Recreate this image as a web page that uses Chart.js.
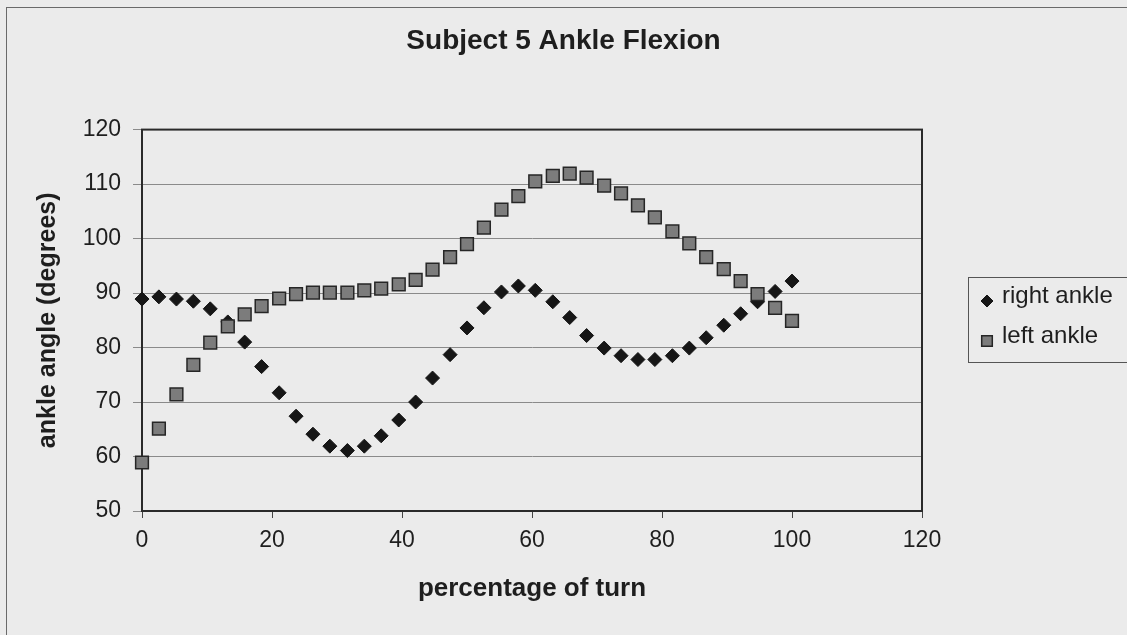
<!DOCTYPE html>
<html>
<head>
<meta charset="utf-8">
<script src="https://cdn.jsdelivr.net/npm/chart.js@4.4.0/dist/chart.umd.min.js"></script>
<style>
  html, body { margin: 0; padding: 0; background: #ebebeb; }
  canvas { display: block; }
</style>
</head>
<body>
<canvas id="myChart" width="1127" height="635"></canvas>
<script>
// percentage of turn (x) for each sample
const turn = [0, 2.6, 5.3, 7.9, 10.5, 13.2, 15.8, 18.4, 21.1, 23.7, 26.3, 28.9, 31.6, 34.2, 36.8, 39.5, 42.1, 44.7, 47.4, 50,
  52.6, 55.3, 57.9, 60.5, 63.2, 65.8, 68.4, 71.1, 73.7, 76.3, 78.9, 81.6, 84.2, 86.8, 89.5, 92.1, 94.7, 97.4, 100]

const rightAnkle = [88.9, 89.3, 88.9, 88.5, 87.1, 84.7, 81.0, 76.5, 71.7, 67.4, 64.1, 61.9, 61.1, 61.9, 63.8, 66.7, 70.0, 74.4, 78.7, 83.6,
  87.3, 90.2, 91.3, 90.5, 88.4, 85.5, 82.2, 79.9, 78.5, 77.8, 77.8, 78.5, 79.9, 81.8, 84.1, 86.2, 88.4, 90.3, 92.2]

const leftAnkle = [58.9, 65.1, 71.4, 76.8, 80.9, 83.9, 86.1, 87.6, 89.0, 89.8, 90.1, 90.1, 90.1, 90.5, 90.8, 91.6, 92.4, 94.3, 96.6, 99.0,
  102.0, 105.3, 107.8, 110.5, 111.5, 111.9, 111.2, 109.7, 108.3, 106.1, 103.9, 101.3, 99.1, 96.6, 94.4, 92.2, 89.8, 87.3, 84.9]

const xTicks = [0, 20, 40, 60, 80, 100, 120]
const yTicks = [50, 60, 70, 80, 90, 100, 110, 120]

const font = "'Liberation Sans', Arial, sans-serif"
const ink = '#1e1e1e'

function toPoints(xs, ys) {
  return xs.map((x, i) => ({ x: x, y: ys[i] }))
}

// background, frame, plot border and the legend box
const decor = {
  id: 'decor',
  beforeDraw(chart) {
    const ctx = chart.ctx
    ctx.save()
    ctx.fillStyle = '#ebebeb'
    ctx.fillRect(0, 0, chart.width, chart.height)
    ctx.strokeStyle = '#6a6a6a'
    ctx.lineWidth = 1
    ctx.strokeRect(6.5, 7.5, chart.width + 20, chart.height + 20)
    ctx.restore()
  },
  beforeDatasetsDraw(chart) {
    const ctx = chart.ctx
    const a = chart.chartArea
    ctx.save()
    ctx.strokeStyle = '#2a2a2a'
    ctx.lineWidth = 2
    ctx.strokeRect(a.left, a.top, a.right - a.left, a.bottom - a.top)
    ctx.restore()
  },
  afterDraw(chart) {
    const ctx = chart.ctx
    ctx.save()
    ctx.strokeStyle = '#555'
    ctx.lineWidth = 1
    ctx.strokeRect(968.5, 277.5, 200, 85)
    const rows = [296, 336]
    chart.data.datasets.forEach((ds, i) => {
      ctx.fillStyle = ds.backgroundColor
      ctx.strokeStyle = ds.borderColor
      ctx.lineWidth = ds.borderWidth
      Chart.helpers.drawPoint(ctx, {
        pointStyle: ds.pointStyle,
        radius: ds.pointStyle === 'rect' ? 7.5 : 6,
        rotation: 0,
        borderWidth: ds.borderWidth
      }, 987, rows[i] + 5)
      ctx.fillStyle = ink
      ctx.font = '24px ' + font
      ctx.textBaseline = 'middle'
      ctx.textAlign = 'left'
      ctx.fillText(ds.label, 1002, rows[i])
    })
    ctx.restore()
  }
}

const chart = new Chart(document.getElementById('myChart'), {
  type: 'scatter',
  data: {
    datasets: [{
      label: 'right ankle',
      data: toPoints(turn, rightAnkle),
      pointStyle: 'rectRot',
      pointRadius: 7,
      pointHoverRadius: 7,
      backgroundColor: '#161616',
      borderColor: '#161616',
      borderWidth: 1,
      clip: false,
      order: 1
    }, {
      label: 'left ankle',
      data: toPoints(turn, leftAnkle),
      pointStyle: 'rect',
      pointRadius: 9,
      pointHoverRadius: 9,
      backgroundColor: '#7c7c7c',
      borderColor: '#262626',
      borderWidth: 1.5,
      clip: false,
      order: 0
    }]
  },
  options: {
    responsive: false,
    animation: false,
    devicePixelRatio: 1,
    layout: { padding: 0 },
    plugins: {
      legend: { display: false },
      tooltip: { enabled: false },
      title: {
        display: true,
        text: 'Subject 5 Ankle Flexion',
        color: ink,
        font: { family: font, size: 28, weight: 'bold' },
        padding: { top: 24, bottom: 72 }
      }
    },
    scales: {
      x: {
        type: 'linear',
        min: 0,
        max: 120,
        afterBuildTicks: s => { s.ticks = xTicks.map(v => ({ value: v })) },
        afterFit: s => { s.height = 124 },
        grid: { drawOnChartArea: false, color: '#444', tickLength: 7 },
        border: { display: true, color: '#2a2a2a', width: 2 },
        ticks: { color: ink, padding: 9, font: { family: font, size: 23 } },
        title: {
          display: true,
          text: 'percentage of turn',
          color: ink,
          font: { family: font, size: 26, weight: 'bold' },
          padding: { top: 0, bottom: 31 }
        }
      },
      y: {
        type: 'linear',
        min: 50,
        max: 120,
        afterBuildTicks: s => { s.ticks = yTicks.map(v => ({ value: v })) },
        afterFit: s => { s.width = 142 },
        grid: { color: '#8a8a8a', lineWidth: 1, tickLength: 9 },
        border: { display: true, color: '#2a2a2a', width: 2 },
        ticks: { color: ink, padding: 12, font: { family: font, size: 23 } },
        title: {
          display: true,
          text: 'ankle angle (degrees)',
          color: ink,
          font: { family: font, size: 25, weight: 'bold' },
          padding: { top: 33, bottom: 0 }
        }
      },
      // empty right-hand strip that holds the legend
      side: {
        type: 'linear',
        position: 'right',
        display: true,
        grid: { display: false },
        border: { display: false },
        ticks: { display: false },
        afterFit: s => { s.width = 205 }
      }
    }
  },
  plugins: [decor]
})
</script>
</body>
</html>
